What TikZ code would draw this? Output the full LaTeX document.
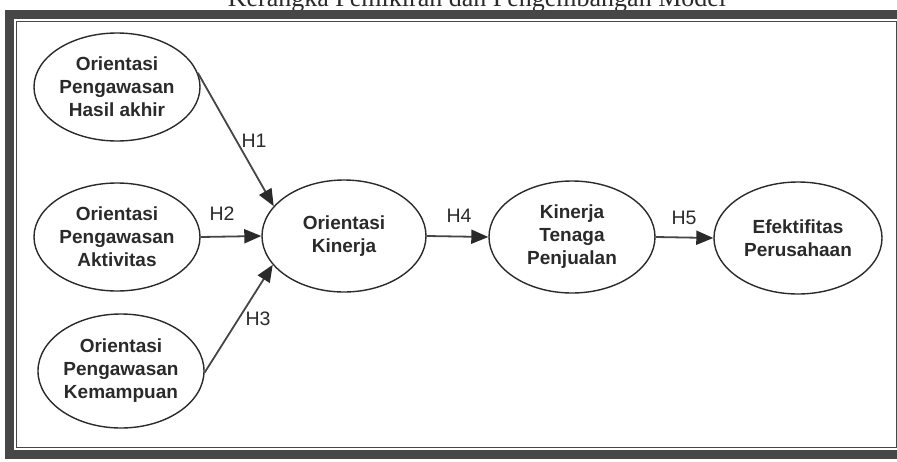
\documentclass[tikz,border=0pt]{standalone}
\usepackage{fontspec}
\setmainfont{Liberation Sans}
\newfontfamily\titlefont{Liberation Serif}
\usetikzlibrary{arrows.meta,shapes.geometric}
\definecolor{ink}{HTML}{2A2A2A}
\definecolor{lineg}{HTML}{454545}
\definecolor{frameg}{HTML}{474747}
\begin{document}
\begin{tikzpicture}[x=1pt,y=-1pt,
  var/.style={ellipse,draw=ink,line width=1.4pt,inner sep=0pt,
    minimum width=166pt,minimum height=108pt,align=center,text=ink,
    font=\bfseries\fontsize{19}{23}\selectfont},
  arr/.style={draw=lineg,line width=1.8pt,
    -{Triangle[length=17pt,width=14pt,fill=ink,color=ink]}},
  hlab/.style={text=ink,font=\fontsize{19.5}{19.5}\selectfont,inner sep=0pt},
  outerframe/.style={draw=frameg,line width=8.5pt},
  innerframe/.style={draw=frameg,line width=1.4pt}]
\useasboundingbox (0,0) rectangle (897,461);
\clip (0,0) rectangle (897,461);
% title (cut off at the top)
\node[font=\titlefont\fontsize{26}{26}\selectfont,text=ink,anchor=base,inner sep=0pt] (title) at (477,6) {Kerangka Pemikiran dan Pengembangan Model};
% frame (right side runs off the page)
\draw[outerframe] (9.5,14.5) rectangle (905,454.5);
\draw[innerframe] (16.5,21.5) rectangle (896.5,447.5);
% variables
\node[var] (a) at (117,87) {Orientasi\\Pengawasan\\Hasil akhir};
\node[var] (b) at (117,237) {Orientasi\\Pengawasan\\Aktivitas};
\node[var,minimum height=114pt] (c) at (121,371) {Orientasi\\Pengawasan\\Kemampuan};
\node[var,minimum width=164pt,minimum height=112pt] (k) at (344,236) {Orientasi\\Kinerja};
\node[var,minimum width=166pt,minimum height=112pt] (t) at (572,237) {Kinerja\\Tenaga\\Penjualan};
\node[var,minimum width=168pt,minimum height=112pt] (e) at (798,238) {Efektifitas\\Perusahaan};
% connectors
\draw[arr] (a.10) -- (k.157);
\draw[arr] (b.east) -- (k.west);
\draw[arr] (c.-1) -- (k.-158);
\draw[arr] (k.east) -- (t.west);
\draw[arr] (t.east) -- (e.west);
% labels
\node[hlab] (h1) at (254,141) {H1};
\node[hlab] (h2) at (222,214) {H2};
\node[hlab] (h3) at (258,319) {H3};
\node[hlab] (h4) at (459,216) {H4};
\node[hlab] (h5) at (684,218) {H5};
\end{tikzpicture}
\end{document}
